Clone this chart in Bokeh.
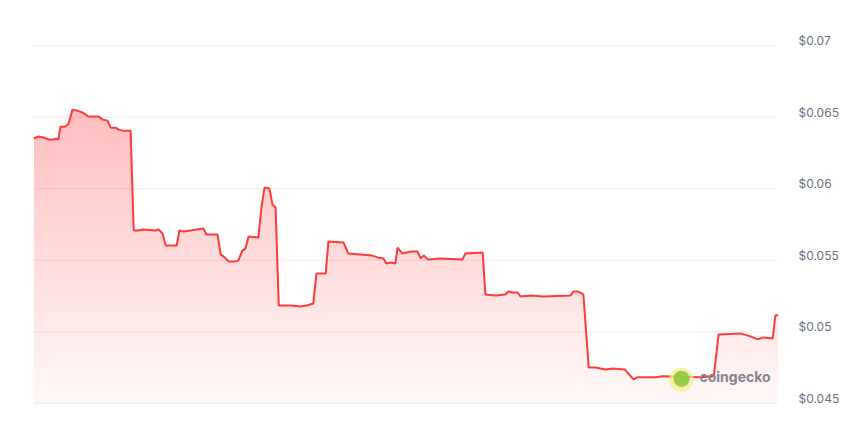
import numpy as np
from bokeh.plotting import figure
from bokeh.models import Range1d, FixedTicker, CustomJSTickFormatter, Label, LinearAxis
from bokeh.embed import file_html
from bokeh.resources import INLINE

# time in hours over a 7-day window
hours = [0, 1.1, 2.3, 3.4, 4.5, 5.2, 5.6, 6.1, 7.2, 7.9, 8.8, 9.9, 11.1, 12.4, 14.7,
         15.6, 16.7, 17.4, 18.5, 19.2, 20.1, 21.9, 22.6, 23.7, 24.8, 27.5, 28.2, 29.1,
         29.8, 32.3, 32.9, 33.8, 35.4, 38.3, 39.0, 41.5, 42.2, 43.1, 44.0, 45.6, 46.2,
         47.1, 47.8, 48.5, 50.7, 51.4, 52.1, 53.2, 53.9, 54.6, 55.3, 58.0, 60.2, 61.6,
         63.1, 63.8, 65.9, 66.5, 69.9, 71.0, 73.7, 76.2, 77.6, 78.9, 79.6, 80.5, 81.6,
         82.1, 83.2, 85.2, 86.6, 87.3, 88.0, 88.9, 91.8, 96.7, 97.4, 101.3, 101.9, 104.2,
         106.4, 107.1, 108.0, 109.1, 109.8, 112.1, 115.0, 121.1, 121.8, 122.7, 124.0,
         125.2, 126.7, 129.0, 130.6, 133.3, 135.3, 136.2, 140.3, 141.9, 150.4, 153.4,
         154.5, 159.4, 161.7, 163.3, 164.6, 166.7, 167.3, 168.0]
prices = [0.06351, 0.06365, 0.06358, 0.06344, 0.06344, 0.06351, 0.06344, 0.06434, 0.06434,
          0.06455, 0.06553, 0.06546, 0.06532, 0.06504, 0.06504, 0.06483, 0.06476, 0.06427,
          0.06427, 0.06413, 0.06406, 0.06406, 0.05708, 0.05708, 0.05715, 0.05708, 0.05715,
          0.05687, 0.05603, 0.05603, 0.05708, 0.05701, 0.05708, 0.05722, 0.05680, 0.05680,
          0.05541, 0.05520, 0.05492, 0.05492, 0.05499, 0.05568, 0.05582, 0.05666, 0.05659,
          0.05869, 0.06008, 0.06001, 0.05890, 0.05869, 0.05184, 0.05184, 0.05177, 0.05184,
          0.05198, 0.05408, 0.05408, 0.05631, 0.05624, 0.05547, 0.05541, 0.05534, 0.05520,
          0.05513, 0.05478, 0.05485, 0.05478, 0.05589, 0.05547, 0.05561, 0.05561, 0.05513,
          0.05534, 0.05506, 0.05513, 0.05506, 0.05547, 0.05554, 0.05261, 0.05254, 0.05261,
          0.05282, 0.05275, 0.05275, 0.05247, 0.05254, 0.05247, 0.05254, 0.05282, 0.05282,
          0.05261, 0.04751, 0.04751, 0.04737, 0.04744, 0.04737, 0.04668, 0.04682, 0.04682,
          0.04689, 0.04682, 0.04689, 0.04982, 0.04989, 0.04968, 0.04947, 0.04961, 0.04954,
          0.05115, 0.05115]
y_ticks = [0.045, 0.05, 0.055, 0.06, 0.065, 0.07]

RED = "#ff3a3a"
t = np.array(hours)
v = np.array(prices)

W, H = 844, 418
pad = 0.0005          # small padding so that the end gridlines sit inside the frame
shift = 0.00035       # lifts the tick labels slightly above their gridlines
p = figure(width=W, height=H, output_backend="svg", toolbar_location=None,
           x_range=Range1d(0, 168), y_range=Range1d(0.045 - pad, 0.07 + pad),
           x_axis_location=None, y_axis_location=None,
           min_border_left=33, min_border_right=66, min_border_top=38, min_border_bottom=8)
p.extra_y_ranges = {"labels": Range1d(0.045 - pad - shift, 0.07 + pad - shift)}
p.outline_line_color = None
p.background_fill_color = "white"
p.border_fill_color = "white"
p.xgrid.visible = False
p.ygrid.visible = False

ax = LinearAxis(y_range_name="labels")
ax.ticker = FixedTicker(ticks=y_ticks)
ax.formatter = CustomJSTickFormatter(code="return '$' + (+tick.toFixed(4)).toString();")
ax.axis_line_color = None
ax.major_tick_line_color = None
ax.minor_tick_line_color = None
ax.major_label_standoff = 14
ax.major_label_text_font = "Inter"
ax.major_label_text_font_size = "12px"
ax.major_label_text_color = "#6b7180"
p.add_layout(ax, "right")

# horizontal gridlines at the tick values
for yt in y_ticks:
    p.line(x=[0, 168], y=[yt, yt], line_color="#efeff1", line_width=1)

# vertical gradient fill approximated with stacked translucent bands
base, top = 0.045, 0.066
n = 60
levels = np.linspace(base, top, n + 1)[:-1]
def target(y):
    return 0.03 + (y - base) / (0.0655 - base) * 0.24
prev = 0.0
for a in levels:
    c = target(a + (top - base) / n)
    alpha = (c - prev) / (1 - prev)
    prev = c
    p.varea(x=t, y1=a, y2=np.maximum(v, a), fill_color=RED, fill_alpha=alpha)

p.line(t, v, line_color=RED, line_width=2)

# watermark (screen units relative to the plot frame)
wx, wy = 648, 34
p.add_layout(Label(x=wx, y=wy, x_units="screen", y_units="screen", text="●",
                   text_color="#f3f08a", text_alpha=0.75, text_font_size="32px",
                   text_font="DejaVu Sans", text_align="center", text_baseline="middle"))
p.add_layout(Label(x=wx, y=wy, x_units="screen", y_units="screen", text="●",
                   text_color="#8dc63f", text_alpha=0.9, text_font_size="21px",
                   text_font="DejaVu Sans", text_align="center", text_baseline="middle"))
p.add_layout(Label(x=wx + 18, y=wy, x_units="screen", y_units="screen", text="coingecko",
                   text_color="#85858f", text_font_size="14px", text_font="Inter",
                   text_font_style="bold", text_baseline="middle"))

open("out.html", "w").write(file_html(p, INLINE))
